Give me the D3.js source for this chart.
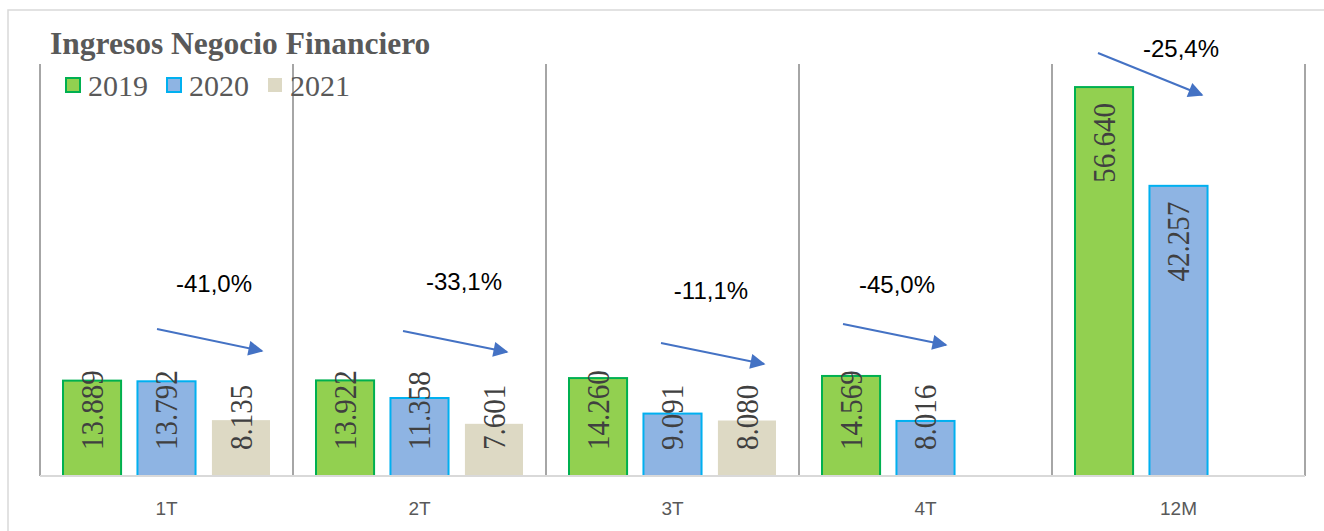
<!DOCTYPE html>
<html lang="es">
<head>
    <meta charset="UTF-8">
    <title>Ingresos Negocio Financiero</title>
    <script src="https://cdn.jsdelivr.net/npm/d3@7/dist/d3.min.js"></script>
    <style>
        html, body {
            margin: 0;
            padding: 0;
            background: #fff;
        }

        svg .frame {
            fill: none;
            stroke: #d9d9d9;
            stroke-width: 1.5px;
        }

        svg .sep {
            stroke: #a6a6a6;
            stroke-width: 2px;
        }

        svg .base {
            stroke: #d9d9d9;
            stroke-width: 2px;
        }

        svg .title {
            font-family: "Liberation Serif", "Times New Roman", serif;
            font-weight: bold;
            font-size: 31.5px;
            fill: #595959;
        }

        svg .legend-text {
            font-family: "Liberation Serif", "Times New Roman", serif;
            font-size: 30px;
            fill: #595959;
        }

        svg .cat-label {
            font-family: "Liberation Sans", Arial, sans-serif;
            font-size: 19px;
            fill: #595959;
        }

        svg .bar-label {
            font-family: "Liberation Serif", "Times New Roman", serif;
            font-size: 29px;
            fill: #404040;
        }

        svg .pct {
            font-family: "Liberation Sans", Arial, sans-serif;
            font-size: 24px;
            fill: #000;
        }

        svg .arrow {
            stroke: #4472c4;
            stroke-width: 2px;
        }
    </style>
</head>
<body>
    <svg width="1324" height="531"></svg>
    <script>
        // data
        var categories = ['1T', '2T', '3T', '4T', '12M'],
            years = ['2019', '2020', '2021'],
            values2019 = [13889, 13922, 14260, 14569, 56640],
            values2020 = [13792, 11358, 9091, 8016, 42257],
            values2021 = [8135, 7601, 8080, null, null],
            changes = ['-41,0%', '-33,1%', '-11,1%', '-45,0%', '-25,4%'];

        var fills = ['#92d050', '#8eb4e3', '#ddd9c4'],
            strokes = ['#00b050', '#00b0f0', 'none'];

        // hand placed arrows, in px relative to the category start / plot top
        var arrowLayout = [
            {x1: 117, y1: 265, x2: 222, y2: 287, tx: 174, ty: 228},
            {x1: 110, y1: 267, x2: 214, y2: 288, tx: 171, ty: 226},
            {x1: 115, y1: 279, x2: 218, y2: 300, tx: 165, ty: 235},
            {x1: 44,  y1: 260, x2: 147, y2: 281, tx: 98,  ty: 229},
            {x1: 46,  y1: -11, x2: 150, y2: 31,  tx: 129, ty: -7}
        ];

        var svg = d3.select('svg'),
            plotLeft = 40,
            plotRight = 1305,
            plotTop = 64,
            plotBottom = 476;

        var series = [values2019, values2020, values2021];

        var x = d3.scaleBand()
            .domain(categories)
            .range([plotLeft, plotRight]);

        var xInner = d3.scaleBand()
            .domain(years)
            .range([23, x.bandwidth() - 23])
            .paddingInner(0.22);

        var y = d3.scaleLinear()
            .domain([0, 60000])
            .range([plotBottom, plotTop]);

        var fmt = d3.formatLocale({decimal: ',', thousands: '.', grouping: [3], currency: ['', '']}).format(',d');

        function cells(d, ci) {
            return years.map(function(yr, si) {
                return {year: yr, si: si, value: series[si][ci]};
            }).filter(function(e) { return e.value != null; });
        }

        // outer frame
        svg.append('path')
            .classed('frame', true)
            .attr('d', 'M8,531 L8,10 L1324,10');

        // category separators
        svg.selectAll('.sep')
            .data(categories.concat(['end']))
            .enter()
            .append('line')
            .classed('sep', true)
            .attr('x1', function(d, i) { return i < categories.length ? x(d) : plotRight; })
            .attr('x2', function(d, i) { return i < categories.length ? x(d) : plotRight; })
            .attr('y1', plotTop)
            .attr('y2', plotBottom);

        // bars
        var groups = svg.selectAll('.cat')
            .data(categories)
            .enter()
            .append('g')
            .attr('class', 'cat')
            .attr('transform', function(d) { return 'translate(' + x(d) + ',0)'; });

        groups.selectAll('rect')
            .data(cells)
            .enter()
            .append('rect')
            .attr('x', function(d) { return xInner(d.year); })
            .attr('y', function(d) { return y(d.value); })
            .attr('width', xInner.bandwidth())
            .attr('height', function(d) { return plotBottom - y(d.value); })
            .attr('fill', function(d) { return fills[d.si]; })
            .attr('stroke', function(d) { return strokes[d.si]; })
            .attr('stroke-width', 2);

        // base line
        svg.append('line')
            .classed('base', true)
            .attr('x1', plotLeft)
            .attr('x2', plotRight)
            .attr('y1', plotBottom)
            .attr('y2', plotBottom);

        // vertical value labels
        groups.selectAll('.bar-label')
            .data(cells)
            .enter()
            .append('text')
            .classed('bar-label', true)
            .text(function(d) { return fmt(d.value); })
            .each(function(d) {
                var t = d3.select(this),
                    len = this.getComputedTextLength(),
                    cx = xInner(d.year) + xInner.bandwidth() / 2,
                    topY = y(d.value) + 16,
                    py, anchor;
                if (topY + len > plotBottom - 26) {
                    py = plotBottom - 26;
                    anchor = 'start';
                } else {
                    py = topY;
                    anchor = 'end';
                }
                t.attr('text-anchor', anchor)
                    .attr('y', 0.34 * 29)
                    .attr('transform', 'translate(' + cx + ',' + py + ') rotate(-90) scale(1,1.1)');
            });

        // category labels
        svg.selectAll('.cat-label')
            .data(categories)
            .enter()
            .append('text')
            .classed('cat-label', true)
            .attr('x', function(d) { return x(d) + x.bandwidth() / 2; })
            .attr('y', 515)
            .attr('text-anchor', 'middle')
            .text(function(d) { return d; });

        // arrows and change labels
        svg.append('defs')
            .append('marker')
            .attr('id', 'head')
            .attr('viewBox', '0 0 10 10')
            .attr('refX', 9)
            .attr('refY', 5)
            .attr('markerWidth', 8.5)
            .attr('markerHeight', 7.5)
            .attr('markerUnits', 'strokeWidth')
            .attr('orient', 'auto')
            .append('path')
            .attr('d', 'M0,0 L10,5 L0,10 z')
            .attr('fill', '#4472c4');

        svg.selectAll('.arrow')
            .data(categories)
            .enter()
            .append('line')
            .classed('arrow', true)
            .attr('x1', function(d, i) { return x(d) + arrowLayout[i].x1; })
            .attr('y1', function(d, i) { return plotTop + arrowLayout[i].y1; })
            .attr('x2', function(d, i) { return x(d) + arrowLayout[i].x2; })
            .attr('y2', function(d, i) { return plotTop + arrowLayout[i].y2; })
            .attr('marker-end', 'url(#head)');

        svg.selectAll('.pct')
            .data(changes)
            .enter()
            .append('text')
            .classed('pct', true)
            .attr('x', function(d, i) { return x(categories[i]) + arrowLayout[i].tx; })
            .attr('y', function(d, i) { return plotTop + arrowLayout[i].ty; })
            .attr('text-anchor', 'middle')
            .text(function(d) { return d; });

        // title and legend
        svg.append('text')
            .classed('title', true)
            .attr('x', 50)
            .attr('y', 54)
            .text('Ingresos Negocio Financiero');

        var legend = svg.selectAll('.legend')
            .data(years)
            .enter()
            .append('g')
            .attr('class', 'legend')
            .attr('transform', function(d, i) { return 'translate(' + (66 + i * 101) + ',0)'; });

        legend.append('rect')
            .attr('x', 0)
            .attr('y', 78)
            .attr('width', 14)
            .attr('height', 14)
            .attr('fill', function(d, i) { return fills[i]; })
            .attr('stroke', function(d, i) { return strokes[i]; })
            .attr('stroke-width', 2);

        legend.append('text')
            .classed('legend-text', true)
            .attr('x', 22)
            .attr('y', 96)
            .text(function(d) { return d; });
    </script>
</body>
</html>
